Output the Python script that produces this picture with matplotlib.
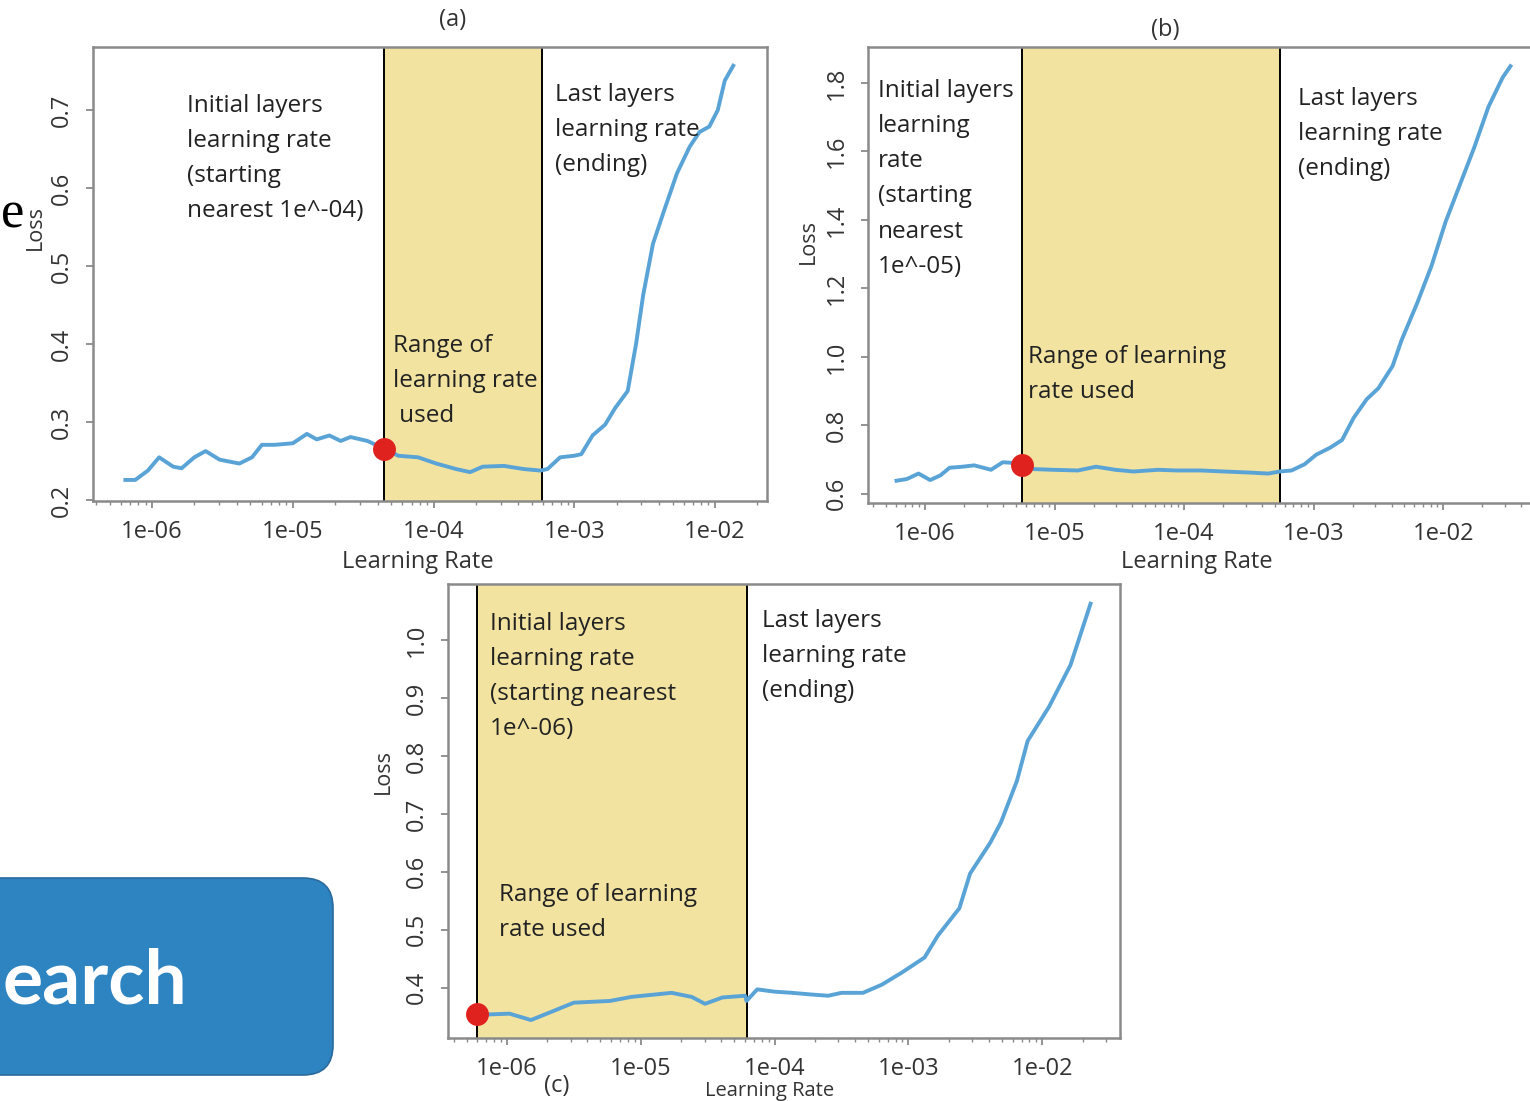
import numpy as np
import matplotlib
matplotlib.use("Agg")
import matplotlib.pyplot as plt
import matplotlib.patches as mpatches
from matplotlib.ticker import LogLocator, FuncFormatter, NullFormatter

plt.rcParams['font.family'] = ['Open Sans', 'DejaVu Sans']

# learning rates stored as log10 exponents, losses
lr_a_exp = [-6.19, -6.12, -6.03, -5.95, -5.85, -5.79, -5.70, -5.62, -5.52, -5.38,
            -5.29, -5.22, -5.13, -5.00, -4.90, -4.83, -4.74, -4.66, -4.59, -4.47,
            -4.35, -4.25, -4.11, -3.98, -3.84, -3.74, -3.65, -3.50, -3.36, -3.24,
            -3.19, -3.10, -3.00, -2.95, -2.87, -2.78, -2.71, -2.62, -2.56, -2.51,
            -2.44, -2.36, -2.27, -2.18, -2.11, -2.04, -1.98, -1.93, -1.87]
loss_a = [0.226, 0.226, 0.238, 0.255, 0.243, 0.241, 0.255, 0.263, 0.252, 0.247,
          0.255, 0.271, 0.271, 0.273, 0.285, 0.278, 0.283, 0.276, 0.281, 0.276,
          0.266, 0.257, 0.255, 0.247, 0.240, 0.236, 0.243, 0.244, 0.240, 0.238,
          0.240, 0.255, 0.257, 0.259, 0.283, 0.297, 0.318, 0.340, 0.401, 0.463,
          0.529, 0.572, 0.619, 0.653, 0.672, 0.679, 0.700, 0.738, 0.757]

lr_b_exp = [-6.22, -6.14, -6.05, -5.96, -5.88, -5.81, -5.71, -5.62, -5.49, -5.40,
            -5.31, -5.24, -5.16, -5.01, -4.82, -4.68, -4.53, -4.39, -4.20, -4.06,
            -3.87, -3.69, -3.50, -3.35, -3.26, -3.17, -3.07, -2.98, -2.87, -2.78,
            -2.69, -2.59, -2.50, -2.39, -2.32, -2.20, -2.09, -1.98, -1.87, -1.76,
            -1.65, -1.54, -1.48]
loss_b = [0.638, 0.643, 0.659, 0.640, 0.654, 0.676, 0.679, 0.683, 0.670, 0.692,
          0.690, 0.683, 0.672, 0.670, 0.668, 0.679, 0.670, 0.665, 0.670, 0.668,
          0.668, 0.665, 0.662, 0.659, 0.665, 0.668, 0.686, 0.714, 0.735, 0.757,
          0.822, 0.876, 0.908, 0.973, 1.049, 1.157, 1.265, 1.395, 1.503, 1.611,
          1.730, 1.816, 1.849]

lr_c_exp = [-6.22, -5.98, -5.82, -5.67, -5.50, -5.23, -5.07, -4.77, -4.62, -4.52,
            -4.39, -4.22, -4.21, -4.13, -4.00, -3.87, -3.72, -3.60, -3.50, -3.34,
            -3.20, -3.05, -2.88, -2.78, -2.62, -2.54, -2.39, -2.31, -2.19, -2.11,
            -1.95, -1.79, -1.64]
loss_c = [0.353, 0.355, 0.344, 0.358, 0.374, 0.377, 0.384, 0.391, 0.384, 0.372,
          0.383, 0.386, 0.377, 0.397, 0.393, 0.391, 0.388, 0.386, 0.391, 0.391,
          0.405, 0.426, 0.452, 0.490, 0.537, 0.597, 0.650, 0.685, 0.757, 0.826,
          0.885, 0.957, 1.063]

# chosen learning-rate range (log10) and loss at the red point
range_a = (-4.35, -3.23)
range_b = (-5.25, -3.26)
range_c = (-6.22, -4.21)
dot_a, dot_b, dot_c = 0.266, 0.683, 0.355

yticks_a = [0.2, 0.3, 0.4, 0.5, 0.6, 0.7]
yticks_b = [0.6, 0.8, 1.0, 1.2, 1.4, 1.6, 1.8]
yticks_c = [0.4, 0.5, 0.6, 0.7, 0.8, 0.9, 1.0]

SHADE = '#f2e3a1'
LINE = '#5aa3d6'
RED = '#e0221e'
FRAME = '#8a8a8a'
TXT = '#222222'

W, H = 1530, 1101


def fx(x):
    return x / W


def fy(y):
    return 1 - y / H


def draw_panel(ax, lr_exp, loss, rng, dot, xlim_exp, ylim, yticks):
    x = 10.0 ** np.array(lr_exp)
    lo, hi = 10.0 ** rng[0], 10.0 ** rng[1]
    ax.axvspan(lo, hi, color=SHADE, lw=0, zorder=0)
    ax.axvline(lo, color='black', lw=1.4, zorder=2)
    ax.axvline(hi, color='black', lw=1.4, zorder=2)
    ax.plot(x, loss, color=LINE, lw=2.8, zorder=3, solid_joinstyle='round')
    ax.plot([lo], [dot], 'o', ms=16.5, color=RED, mec='none', zorder=4)
    ax.set_xscale('log')
    ax.set_xlim(10.0 ** xlim_exp[0], 10.0 ** xlim_exp[1])
    ax.set_ylim(*ylim)
    ax.xaxis.set_major_locator(LogLocator(base=10, numticks=20))
    ax.xaxis.set_major_formatter(FuncFormatter(lambda v, p: f"{v:.0e}"))
    ax.xaxis.set_minor_locator(LogLocator(base=10, subs=np.arange(2, 10) * 1.0, numticks=20))
    ax.xaxis.set_minor_formatter(NullFormatter())
    ax.set_yticks(yticks)
    ax.set_yticklabels([f"{t:.1f}" for t in yticks], rotation=90, va='center')
    for s in ax.spines.values():
        s.set_color(FRAME)
        s.set_linewidth(1.8)
    ax.tick_params(which='major', length=5, width=1.3, color=FRAME,
                   labelsize=17, labelcolor='#333333', pad=9)
    ax.tick_params(which='minor', length=3, width=1.0, color=FRAME)


fig = plt.figure(figsize=(15.3, 11.01), dpi=100)

ax_a = fig.add_axes([fx(93), fy(501), fx(767) - fx(93), fy(47) - fy(501)])
ax_b = fig.add_axes([fx(868), fy(503), fx(1548) - fx(868), fy(47) - fy(503)])
ax_c = fig.add_axes([fx(448), fy(1038), fx(1120) - fx(448), fy(584) - fy(1038)])

draw_panel(ax_a, lr_a_exp, loss_a, range_a, dot_a, (-6.42, -1.63), (0.199, 0.781), yticks_a)
draw_panel(ax_b, lr_b_exp, loss_b, range_b, dot_b, (-6.44, -1.19), (0.573, 1.905), yticks_b)
draw_panel(ax_c, lr_c_exp, loss_c, range_c, dot_c, (-6.44, -1.42), (0.313, 1.097), yticks_c)

note = dict(ha='left', va='top', fontsize=17.5, color=TXT, linespacing=1.62)
fig.text(fx(187), fy(94), "Initial layers\nlearning rate\n(starting\nnearest 1e^-04)", **note)
fig.text(fx(555), fy(83), "Last layers\nlearning rate\n(ending)", **note)
fig.text(fx(393), fy(334), "Range of\nlearning rate\n used", **note)
fig.text(fx(878), fy(79), "Initial layers\nlearning\nrate\n(starting\nnearest\n1e^-05)", **note)
fig.text(fx(1298), fy(87), "Last layers\nlearning rate\n(ending)", **note)
fig.text(fx(1028), fy(345), "Range of learning\nrate used", **note)
fig.text(fx(490), fy(612), "Initial layers\nlearning rate\n(starting nearest\n1e^-06)", **note)
fig.text(fx(762), fy(609), "Last layers\nlearning rate\n(ending)", **note)
fig.text(fx(499), fy(883), "Range of learning\nrate used", **note)

lab = dict(ha='center', va='center', fontsize=17, color='#333333')
fig.text(fx(453), fy(20), "(a)", **lab)
fig.text(fx(1165), fy(30), "(b)", **lab)
fig.text(fx(557), fy(1086), "(c)", **lab)
fig.text(fx(418), fy(562), "Learning Rate", **lab)
fig.text(fx(1197), fy(562), "Learning Rate", **lab)
fig.text(fx(770), fy(1101), "Learning Rate", ha='center', va='bottom', fontsize=14.5, color='#333333')
loss_lab = dict(rotation=90, ha='center', va='center', fontsize=15.5, color='#333333')
fig.text(fx(35), fy(228), "Loss", **loss_lab)
fig.text(fx(808), fy(242), "Loss", **loss_lab)
fig.text(fx(383), fy(772), "Loss", **loss_lab)

# pieces of the slide behind the figure
fig.text(fx(1), fy(227), "e", ha='left', va='baseline', fontsize=38,
         family='Liberation Serif', color='black')
box = mpatches.FancyBboxPatch((-0.5, (H - 1075) / 100), 3.83, 1.97,
                              boxstyle="round,pad=0,rounding_size=0.3",
                              transform=fig.dpi_scale_trans, facecolor='#2e84c1',
                              edgecolor='#2a6a9c', lw=1.2, zorder=0)
fig.patches.append(box)
fig.text(fx(187), fy(1003), "earch", ha='right', va='baseline', fontsize=54,
         family='Lato', weight='bold', color='white')

fig.savefig("out.png", dpi=100)
